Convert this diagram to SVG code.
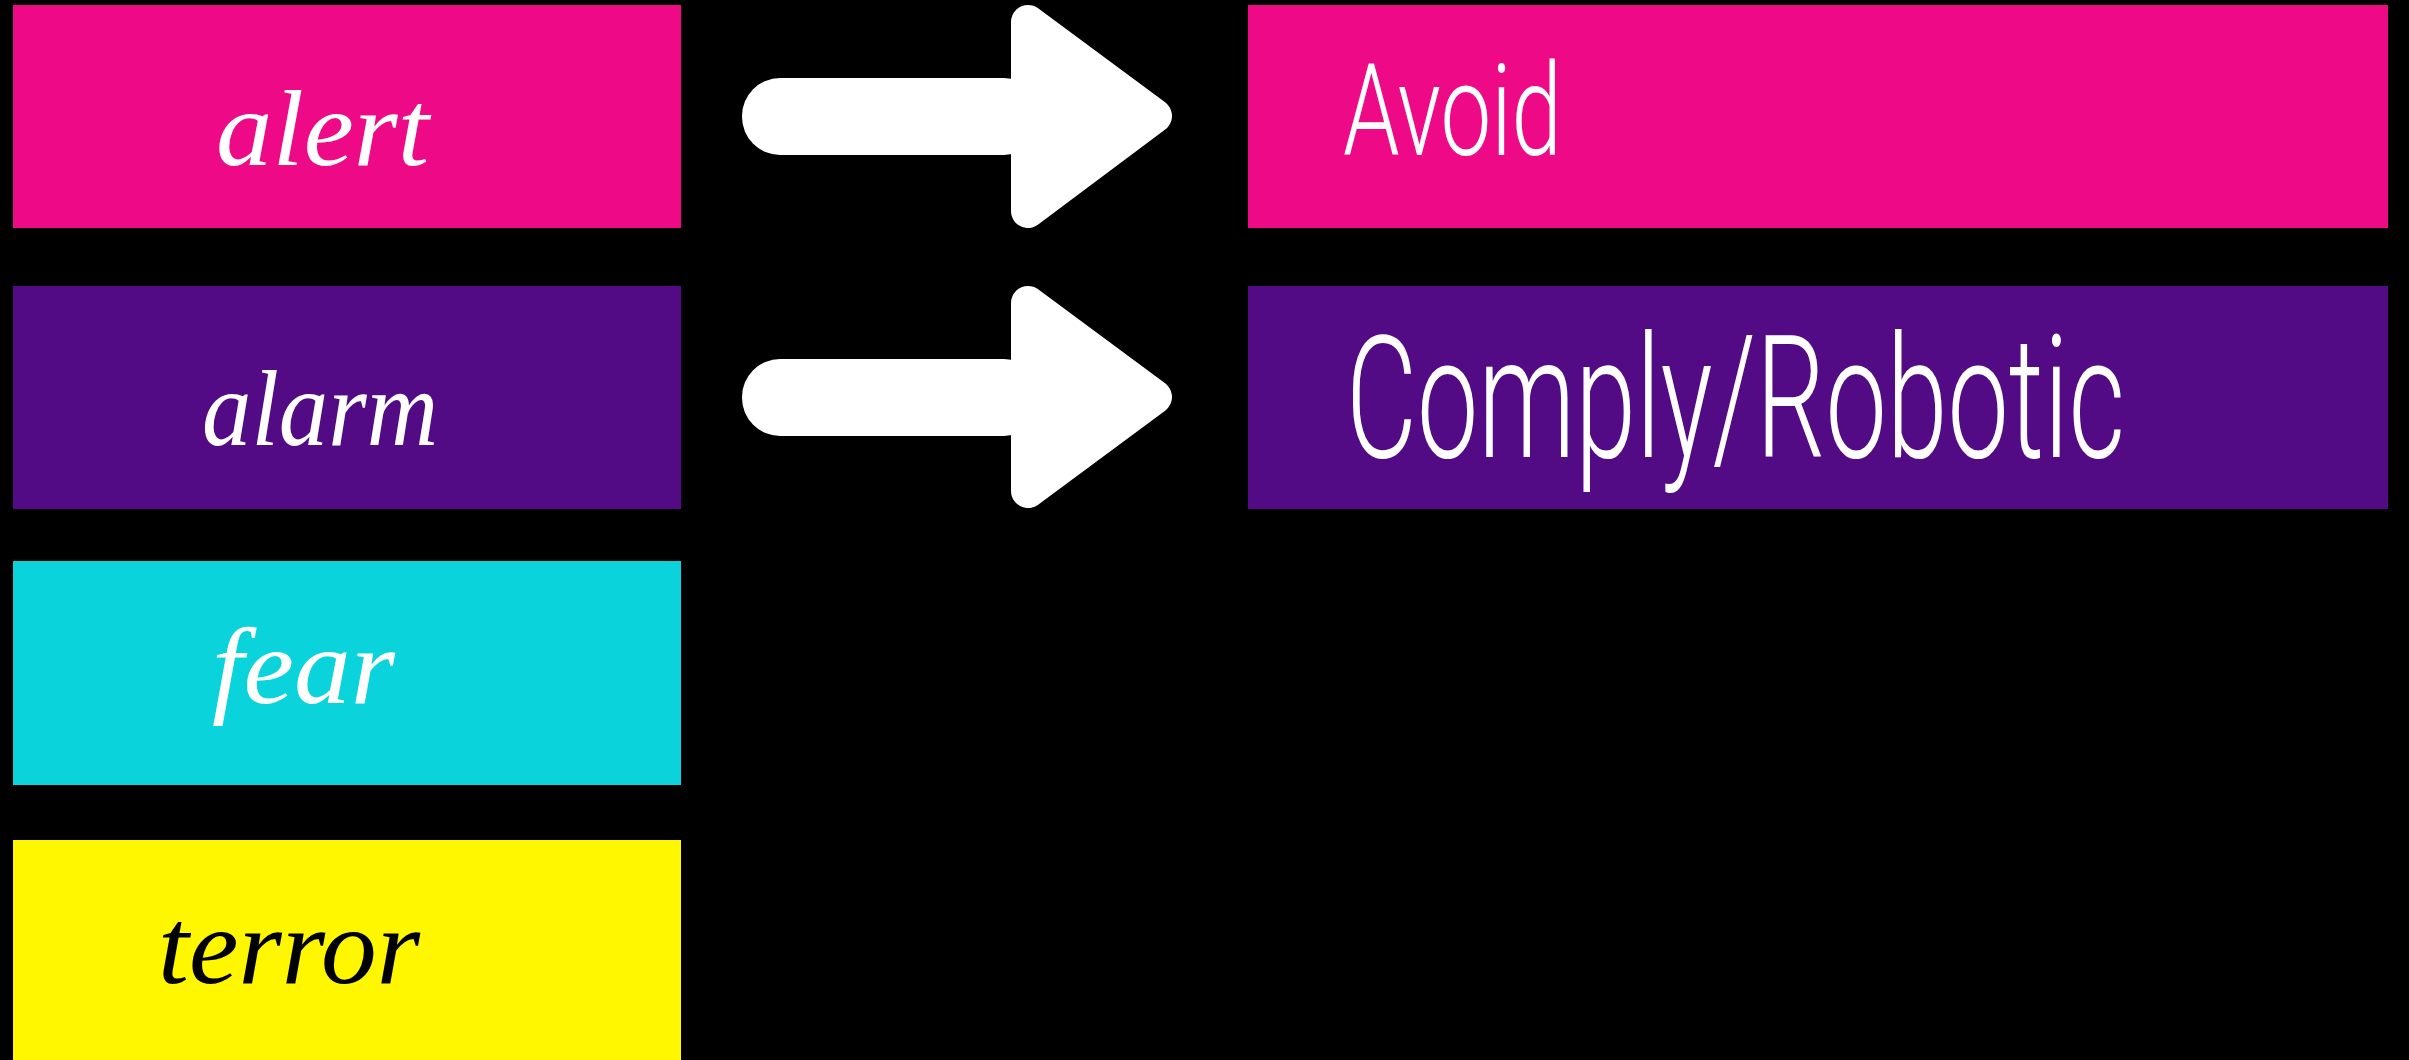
<svg xmlns="http://www.w3.org/2000/svg" width="2409" height="1060" viewBox="0 0 2409 1060">
<style>
.script{font-family:"Liberation Serif","DejaVu Serif",serif;font-style:italic;font-size:108px;}
.cond{font-family:Roboto,"Liberation Sans",sans-serif;font-weight:300;fill:#ffffff;}
.arrow{fill:#ffffff;stroke:#ffffff;stroke-width:34;stroke-linejoin:round;}
</style>
<rect x="0" y="0" width="2409" height="1060" fill="#000000"/>
<g id="node-alert">
<rect x="13" y="5" width="668" height="223" fill="#EE0A87"/>
<text class="script" x="216" y="165" fill="#ffffff" textLength="213" lengthAdjust="spacingAndGlyphs">alert</text>
</g>
<g id="node-alarm">
<rect x="13" y="286" width="668" height="223" fill="#520A85"/>
<text class="script" x="202" y="445" fill="#ffffff" textLength="236" lengthAdjust="spacingAndGlyphs">alarm</text>
</g>
<g id="node-fear">
<rect x="13" y="561" width="668" height="224" fill="#0AD3DC"/>
<text class="script" x="212" y="703" fill="#ffffff" textLength="183" lengthAdjust="spacingAndGlyphs">fear</text>
</g>
<g id="node-terror">
<rect x="13" y="840" width="668" height="230" fill="#FFF700"/>
<text class="script" x="158" y="983" fill="#000000" textLength="262" lengthAdjust="spacingAndGlyphs">terror</text>
</g>
<g id="node-avoid">
<rect x="1248" y="5" width="1140" height="223" fill="#EE0A87"/>
<text class="cond" x="1343" y="155" font-size="128" textLength="219" lengthAdjust="spacingAndGlyphs">Avoid</text>
</g>
<g id="node-comply">
<rect x="1248" y="286" width="1140" height="223" fill="#520A85"/>
<text class="cond" x="1346" y="457" font-size="170" textLength="779" lengthAdjust="spacingAndGlyphs">Comply/Robotic</text>
</g>
<g id="connectors">
<g id="arrow-1">
<rect x="742" y="78" width="300" height="77" rx="38" fill="#ffffff"/>
<polygon class="arrow" points="1028,22 1155,116 1028,211"/>
</g>
<g id="arrow-2">
<rect x="742" y="359" width="300" height="77" rx="38" fill="#ffffff"/>
<polygon class="arrow" points="1028,303 1155,397 1028,491"/>
</g>
</g>
</svg>
